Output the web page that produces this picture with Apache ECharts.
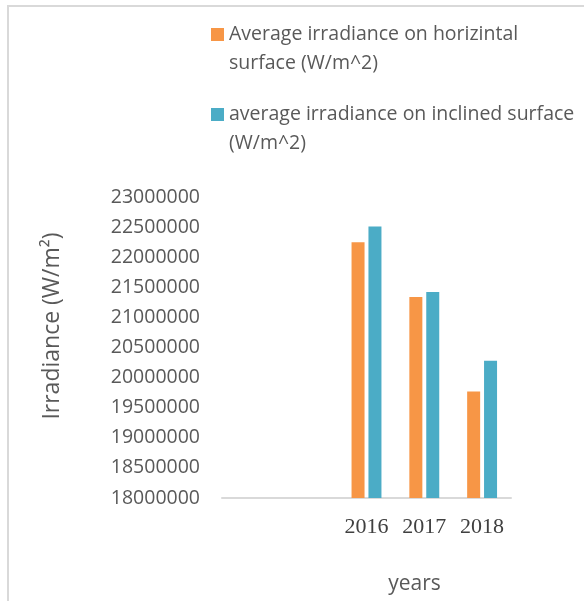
<!DOCTYPE html>
<html>
<head>
<meta charset="utf-8">
<script src="https://cdn.jsdelivr.net/npm/echarts@6/dist/echarts.min.js"></script>
<style>
  html, body { margin: 0; padding: 0; background: #fff; }
  #chart { width: 584px; height: 601px; }
</style>
</head>
<body>
<div id="chart"></div>
<script>
// Category slots: the two leading blanks keep the year groups on the right
const years = ['', '', '2016', '2017', '2018'];
const horizontalName = 'Average irradiance on horizintal\nsurface (W/m^2)';
const inclinedName = 'average irradiance on inclined surface\n(W/m^2)';
const horizontalValues = [null, null, 22250000, 21340000, 19770000];
const inclinedValues = [null, null, 22510000, 21420000, 20280000];
const yMin = 18000000;
const yMax = 23000000;
const yStep = 500000;

const textGrey = '#595959';
const legendText = {
  color: textGrey,
  fontFamily: 'Open Sans',
  fontSize: 19.5,
  lineHeight: 29
};
// A blank leading line keeps the swatch level with the first text line
const legendFormatter = name => ' \n' + name;

const chart = echarts.init(document.getElementById('chart'), null, { renderer: 'canvas' });
chart.setOption({
  animation: false,
  backgroundColor: '#ffffff',
  graphic: [{
    type: 'rect',
    shape: { x: 8, y: 6, width: 620, height: 640 },
    style: { fill: 'none', stroke: '#d9d9d9', lineWidth: 2 },
    silent: true
  }],
  legend: [{
    orient: 'vertical',
    left: 211,
    top: -9,
    padding: 0,
    itemWidth: 13,
    itemHeight: 13,
    icon: 'rect',
    data: [horizontalName],
    formatter: legendFormatter,
    textStyle: legendText
  }, {
    orient: 'vertical',
    left: 211,
    top: 71,
    padding: 0,
    itemWidth: 13,
    itemHeight: 13,
    icon: 'rect',
    data: [inclinedName],
    formatter: legendFormatter,
    textStyle: legendText
  }],
  grid: { left: 222, right: 73, top: 197, bottom: 103, containLabel: false },
  xAxis: {
    type: 'category',
    data: years,
    axisTick: { show: false },
    axisLine: { lineStyle: { color: '#d9d9d9', width: 2 } },
    axisLabel: {
      color: '#404040',
      fontFamily: 'Liberation Serif',
      fontSize: 22,
      margin: 18
    },
    name: 'years',
    nameLocation: 'middle',
    nameGap: 76,
    nameTextStyle: {
      color: textGrey,
      fontFamily: 'Open Sans',
      fontSize: 21,
      padding: [0, 0, 0, 96]
    }
  },
  yAxis: {
    type: 'value',
    min: yMin,
    max: yMax,
    interval: yStep,
    splitLine: { show: false },
    axisLine: { show: false },
    axisTick: { show: false },
    axisLabel: {
      color: textGrey,
      fontFamily: 'Open Sans',
      fontSize: 19.5,
      margin: 22,
      formatter: v => String(v)
    },
    name: 'Irradiance (W/m²)',
    nameLocation: 'middle',
    nameRotate: 90,
    nameGap: 158,
    nameTextStyle: {
      color: textGrey,
      fontFamily: 'Open Sans',
      fontSize: 23,
      padding: [0, 0, 0, 43]
    }
  },
  series: [{
    name: horizontalName,
    type: 'bar',
    data: horizontalValues,
    barWidth: 13,
    barGap: '30%',
    itemStyle: { color: '#f79646' }
  }, {
    name: inclinedName,
    type: 'bar',
    data: inclinedValues,
    barWidth: 13,
    itemStyle: { color: '#4bacc6' }
  }]
});
</script>
</body>
</html>
